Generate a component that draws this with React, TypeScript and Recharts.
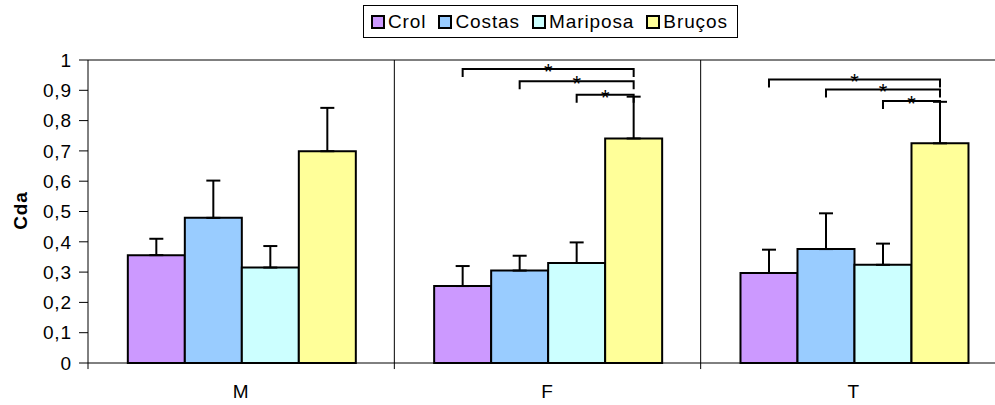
import React from 'react'
import { BarChart, Bar, XAxis, YAxis, ErrorBar, ReferenceLine, Rectangle } from 'recharts'

const groups = ['M', 'F', 'T']
const series = ['Crol', 'Costas', 'Mariposa', 'Bruços']
const colors = ['#CC99FF', '#99CCFF', '#CCFFFF', '#FFFF99']

const crol = [0.356, 0.254, 0.297]
const crolSd = [0.054, 0.066, 0.077]
const costas = [0.479, 0.305, 0.376]
const costasSd = [0.123, 0.049, 0.118]
const mariposa = [0.315, 0.33, 0.324]
const mariposaSd = [0.071, 0.068, 0.07]
const brucos = [0.699, 0.741, 0.725]
const brucosSd = [0.143, 0.138, 0.137]

// Bruços vs Crol / Costas / Mariposa, bracket height in Cda units
const sigLevels = [null, [0.97, 0.93, 0.885], [0.936, 0.903, 0.865]]

const yTicks = [0, 0.1, 0.2, 0.3, 0.4, 0.5, 0.6, 0.7, 0.8, 0.9, 1]

const values = [crol, costas, mariposa, brucos]
const sds = [crolSd, costasSd, mariposaSd, brucosSd]

const data = groups.map((g, i) => {
  const row: any = { group: g, sig: sigLevels[i] }
  series.forEach((s, k) => {
    row[s] = values[k][i]
    row[s + '_sd'] = [0, sds[k][i]]
  })
  return row
})

const fmt = (v: number) => String(Math.round(v * 10) / 10).replace('.', ',')

function BrucosBar(props: any) {
  const { x, y, width, height, payload, fill } = props
  const levels: number[] | null = payload.sig
  const bottom = y + height
  const perUnit = height / payload['Bruços']
  const cx = x + width / 2
  return (
    <g>
      <Rectangle x={x} y={y} width={width} height={height} fill={fill} stroke="#000" strokeWidth={2} />
      {levels &&
        levels.map((lv, i) => {
          const ly = bottom - lv * perUnit
          const lx = cx - (3 - i) * width
          return (
            <g key={i}>
              <path d={`M${lx},${ly + 8}V${ly}H${cx}V${ly + 8}`} fill="none" stroke="#000" strokeWidth={2} />
              <text
                x={(lx + cx) / 2}
                y={ly + 10}
                textAnchor="middle"
                fontSize={22}
                fill="#000"
                style={{ letterSpacing: 0 }}
              >
                *
              </text>
            </g>
          )
        })}
    </g>
  )
}

function Legend() {
  return (
    <div
      style={{
        position: 'absolute',
        left: 363,
        top: 5,
        width: 366,
        height: 31,
        border: '1px solid #000',
        display: 'flex',
        alignItems: 'center',
        paddingLeft: 7,
        boxSizing: 'content-box',
        fontSize: 19,
        whiteSpace: 'nowrap',
      }}
    >
      {series.map((s, k) => (
        <div key={s} style={{ display: 'flex', alignItems: 'center', marginRight: 12 }}>
          <span
            style={{
              width: 10,
              height: 10,
              border: '2px solid #000',
              background: colors[k],
              marginRight: 3,
              display: 'inline-block',
            }}
          />
          <span>{s}</span>
        </div>
      ))}
    </div>
  )
}

export default function App() {
  return (
    <div
      style={{
        position: 'absolute',
        left: 0,
        top: 0,
        width: 995,
        height: 405,
        overflow: 'hidden',
        background: '#fff',
        fontFamily: '"Liberation Sans", Arial, sans-serif',
        letterSpacing: 0.9,
        color: '#000',
      }}
    >
      <BarChart
        width={1010}
        height={405}
        data={data}
        margin={{ top: 60, right: 3, left: 0, bottom: 0 }}
        barCategoryGap="13%"
        barGap={0}
      >
        <XAxis
          dataKey="group"
          axisLine={{ stroke: '#000' }}
          tickLine={false}
          tickSize={0}
          tickMargin={22}
          height={42}
          interval={0}
          tick={{ fontSize: 19, fill: '#000' }}
        />
        <YAxis
          width={88}
          domain={[0, 1]}
          ticks={yTicks}
          interval={0}
          tickFormatter={fmt}
          tickSize={9}
          tickMargin={7}
          axisLine={{ stroke: '#000' }}
          tickLine={{ stroke: '#000' }}
          tick={{ fontSize: 19, fill: '#000' }}
          label={{
            content: (p: any) => {
              const vb = p.viewBox
              const cy = vb.y + vb.height / 2 - 1
              return (
                <text
                  x={27}
                  y={cy}
                  transform={`rotate(-90 27 ${cy})`}
                  textAnchor="middle"
                  fontSize={19}
                  fontWeight="bold"
                  fill="#000"
                >
                  Cda
                </text>
              )
            },
          }}
        />
        <ReferenceLine y={1} stroke="#000" />
        {groups.slice(1).map((g) => (
          <ReferenceLine
            key={'sep' + g}
            segment={[
              { x: g, y: 1 },
              { x: g, y: -0.02 },
            ]}
            position="start"
            stroke="#000"
            ifOverflow="visible"
          />
        ))}
        <ReferenceLine
          segment={[
            { x: groups[0], y: 0 },
            { x: groups[0], y: -0.02 },
          ]}
          position="start"
          stroke="#000"
          ifOverflow="visible"
        />
        {series.map((s, k) => (
          <Bar
            key={s}
            dataKey={s}
            fill={colors[k]}
            stroke="#000"
            strokeWidth={2}
            isAnimationActive={false}
            shape={k === 3 ? BrucosBar : undefined}
          >
            <ErrorBar dataKey={s + '_sd'} width={7} stroke="#000" strokeWidth={2} direction="y" />
          </Bar>
        ))}
      </BarChart>
      <Legend />
    </div>
  )
}
